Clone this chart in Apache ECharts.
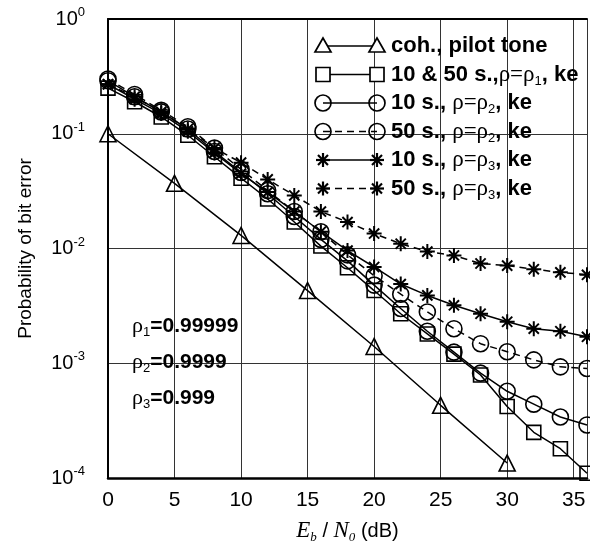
<!DOCTYPE html>
<html>
<head>
<meta charset="utf-8">
<script src="https://cdn.jsdelivr.net/npm/echarts@6/dist/echarts.min.js"></script>
<style>
html, body { margin: 0; padding: 0; background: #fff; }
#chart { width: 590px; height: 549px; }
</style>
</head>
<body>
<div id="chart"></div>
<script>
// Eb/N0 (dB) sample points
var ebno = [0, 2, 4, 6, 8, 10, 12, 14, 16, 18, 20, 22, 24, 26, 28, 30, 32, 34, 36];
var ebnoPilot = [0, 5, 10, 15, 20, 25, 30];

// coh., pilot tone
var pilotTone = [0.1, 0.037, 0.013, 0.0043, 0.0014, 0.00043, 0.000135];
// 10 & 50 s., rho = rho1, ke
var rho1Ke = [0.25, 0.19, 0.14, 0.097, 0.063, 0.041, 0.027, 0.017, 0.0105, 0.0068, 0.0043, 0.0027, 0.0018, 0.0012, 0.00079, 0.00042, 0.00025, 0.00018, 0.00011];
// 10 s., rho = rho2, ke
var rho2Ke10 = [0.29, 0.21, 0.155, 0.11, 0.07, 0.046, 0.03, 0.019, 0.012, 0.0078, 0.0048, 0.003, 0.0019, 0.00125, 0.00082, 0.00057, 0.00044, 0.00034, 0.00029];
// 50 s., rho = rho2, ke
var rho2Ke50 = [0.3, 0.22, 0.16, 0.115, 0.075, 0.049, 0.032, 0.021, 0.014, 0.0088, 0.0058, 0.004, 0.0028, 0.002, 0.00148, 0.00126, 0.00107, 0.00093, 0.0009];
// 10 s., rho = rho3, ke
var rho3Ke10 = [0.27, 0.2, 0.15, 0.105, 0.068, 0.045, 0.031, 0.021, 0.014, 0.0096, 0.0069, 0.0049, 0.0039, 0.0032, 0.0027, 0.0023, 0.002, 0.0019, 0.0017];
// 50 s., rho = rho3, ke
var rho3Ke50 = [0.27, 0.21, 0.155, 0.11, 0.075, 0.056, 0.04, 0.029, 0.021, 0.017, 0.0135, 0.011, 0.0094, 0.0087, 0.0074, 0.0071, 0.0066, 0.0062, 0.0059];

var xTicks = [0, 5, 10, 15, 20, 25, 30, 35];

var SANS = 'Liberation Sans, Arial, sans-serif';
var SERIF = 'Liberation Serif, Times New Roman, serif';
var STAR = 'path://M5,0L5,10M0,5L10,5M1.6,1.6L8.4,8.4M8.4,1.6L1.6,8.4';
var NOFILL = 'rgba(255,255,255,0)';

function pairs(xv, yv) {
    return yv.map(function (v, i) { return [xv[i], v]; });
}

function lineSeries(name, xv, yv, symbol, size, dashed) {
    return {
        name: name,
        type: 'line',
        data: pairs(xv, yv),
        symbol: symbol,
        symbolSize: size,
        showAllSymbol: true,
        lineStyle: { color: '#000', width: 1.5, type: dashed ? [7, 5] : 'solid' },
        itemStyle: { color: symbol === STAR ? '#000' : NOFILL, borderColor: '#000', borderWidth: symbol === STAR ? 2 : 1.6 },
        z: 3
    };
}

// text styles with subscripts, legend size
var rich = {
    b: { fontFamily: SANS, fontWeight: 'bold', fontSize: 22, color: '#000', lineHeight: 26 },
    r: { fontFamily: SERIF, fontSize: 23, color: '#000', lineHeight: 26 },
    s: { fontFamily: SANS, fontSize: 13, color: '#000', lineHeight: 13, verticalAlign: 'bottom' }
};
// a bit smaller for the rho notes
var richNote = {
    b: { fontFamily: SANS, fontWeight: 'bold', fontSize: 21, color: '#000', lineHeight: 26 },
    r: { fontFamily: SERIF, fontSize: 22, color: '#000', lineHeight: 26 },
    s: { fontFamily: SANS, fontSize: 13, color: '#000', lineHeight: 13, verticalAlign: 'bottom' }
};

// legend, drawn by hand: symbol -- line -- symbol, then the label
var legendRows = [
    { sym: 'tri', dash: false, text: '{b|coh., pilot tone}' },
    { sym: 'sq', dash: false, text: '{b|10 & 50 s.,}{r|ρ=ρ}{s|1}{b|, ke}' },
    { sym: 'ci', dash: false, text: '{b|10 s., }{r|ρ=ρ}{s|2}{b|, ke}' },
    { sym: 'ci', dash: true, text: '{b|50 s., }{r|ρ=ρ}{s|2}{b|, ke}' },
    { sym: 'st', dash: false, text: '{b|10 s., }{r|ρ=ρ}{s|3}{b|, ke}' },
    { sym: 'st', dash: true, text: '{b|50 s., }{r|ρ=ρ}{s|3}{b|, ke}' }
];

function legendSymbol(kind, cx, cy) {
    var st = { fill: '#fff', stroke: '#000', lineWidth: 1.7 };
    if (kind === 'tri') {
        return [{ type: 'polygon', shape: { points: [[cx, cy - 8], [cx - 8, cy + 6], [cx + 8, cy + 6]] }, style: st, z: 20 }];
    }
    if (kind === 'sq') {
        return [{ type: 'rect', shape: { x: cx - 7, y: cy - 7, width: 14, height: 14 }, style: st, z: 20 }];
    }
    if (kind === 'ci') {
        return [{ type: 'circle', shape: { cx: cx, cy: cy, r: 8 }, style: { fill: 'none', stroke: '#000', lineWidth: 1.7 }, z: 20 }];
    }
    var d = 7, e = 5;
    var ls = { stroke: '#000', lineWidth: 2.2 };
    return [
        { type: 'line', shape: { x1: cx - d, y1: cy, x2: cx + d, y2: cy }, style: ls, z: 20 },
        { type: 'line', shape: { x1: cx, y1: cy - d, x2: cx, y2: cy + d }, style: ls, z: 20 },
        { type: 'line', shape: { x1: cx - e, y1: cy - e, x2: cx + e, y2: cy + e }, style: ls, z: 20 },
        { type: 'line', shape: { x1: cx - e, y1: cy + e, x2: cx + e, y2: cy - e }, style: ls, z: 20 }
    ];
}

var graphics = [];
legendRows.forEach(function (row, i) {
    var y = 46 + i * 28.5;
    graphics.push({
        type: 'line', shape: { x1: 323, y1: y, x2: 377, y2: y },
        style: { stroke: '#000', lineWidth: 1.5, lineDash: row.dash ? [7, 5] : null }, z: 19
    });
    graphics = graphics.concat(legendSymbol(row.sym, 323, y), legendSymbol(row.sym, 377, y));
    graphics.push({
        type: 'text', x: 391, y: y, z: 20,
        style: { text: row.text, rich: rich, verticalAlign: 'middle', align: 'left' }
    });
});

var rhoNotes = ['{r|ρ}{s|1}{b|=0.99999}', '{r|ρ}{s|2}{b|=0.9999}', '{r|ρ}{s|3}{b|=0.999}'];
rhoNotes.forEach(function (t, i) {
    graphics.push({
        type: 'text', x: 132, y: [326, 362, 398][i], z: 20,
        style: { text: t, rich: richNote, verticalAlign: 'middle', align: 'left' }
    });
});

var chart = echarts.init(document.getElementById('chart'));
chart.setOption({
    backgroundColor: '#fff',
    animation: false,
    grid: { left: 108, right: 0, top: 19, bottom: 66 },
    xAxis: [{
        type: 'value',
        min: 0,
        max: 36,
        interval: 5,
        axisLine: { show: true, lineStyle: { color: '#000', width: 2.5 } },
        axisTick: { show: false },
        splitLine: { show: true, lineStyle: { color: '#333', width: 1 } },
        axisLabel: {
            color: '#000', fontFamily: SANS, fontSize: 21, margin: 12,
            formatter: function (v) { return xTicks.indexOf(v) >= 0 ? String(v) : ''; }
        },
        name: '{i|E}{s|b}{n| / }{i|N}{s|0}{n| (dB)}',
        nameLocation: 'middle',
        nameGap: 40,
        nameTextStyle: {
            rich: {
                i: { fontFamily: SERIF, fontStyle: 'italic', fontSize: 23, color: '#000', lineHeight: 26 },
                s: { fontFamily: SERIF, fontStyle: 'italic', fontSize: 13, color: '#000', lineHeight: 13, verticalAlign: 'bottom' },
                n: { fontFamily: SANS, fontSize: 20, color: '#000', lineHeight: 26 }
            }
        }
    }, {
        type: 'value',
        position: 'top',
        min: 0,
        max: 36,
        axisLine: { show: true, lineStyle: { color: '#000', width: 2 } },
        axisTick: { show: false },
        axisLabel: { show: false },
        splitLine: { show: false }
    }],
    yAxis: {
        type: 'log',
        logBase: 10,
        min: 1e-4,
        max: 1,
        axisLine: { show: true, lineStyle: { color: '#000', width: 2 } },
        axisTick: { show: false },
        splitLine: { show: true, lineStyle: { color: '#333', width: 1 } },
        axisLabel: {
            margin: 23,
            formatter: function (v) {
                return '{m|10}{e|' + Math.round(Math.log10(v)) + '}';
            },
            rich: {
                m: { fontFamily: SANS, fontSize: 20, color: '#000', lineHeight: 26 },
                e: { fontFamily: SANS, fontSize: 13, color: '#000', lineHeight: 13, verticalAlign: 'top' }
            }
        },
        name: 'Probability of bit error',
        nameLocation: 'middle',
        nameGap: 73,
        nameRotate: 90,
        nameTextStyle: { fontFamily: SANS, fontSize: 19, color: '#000' }
    },
    series: [
        lineSeries('coh., pilot tone', ebnoPilot, pilotTone, 'triangle', 16, false),
        lineSeries('10 & 50 s., rho1, ke', ebno, rho1Ke, 'rect', 14, false),
        lineSeries('10 s., rho2, ke', ebno, rho2Ke10, 'circle', 16, false),
        lineSeries('50 s., rho2, ke', ebno, rho2Ke50, 'circle', 16, true),
        lineSeries('10 s., rho3, ke', ebno, rho3Ke10, STAR, 15, false),
        lineSeries('50 s., rho3, ke', ebno, rho3Ke50, STAR, 15, true)
    ],
    graphic: graphics
});
</script>
</body>
</html>
